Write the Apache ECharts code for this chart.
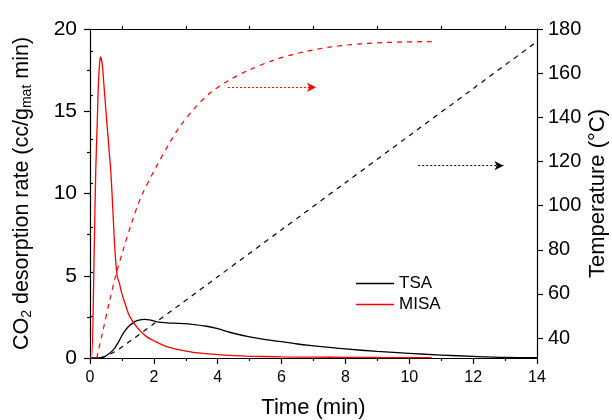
<!DOCTYPE html>
<html><head><meta charset="utf-8">
<script src="https://cdn.jsdelivr.net/npm/echarts@6/dist/echarts.min.js"></script>
<style>html,body{margin:0;padding:0;background:#fff}#c{width:612px;height:420px}</style>
</head><body><div id="c"></div>
<script>
// Desorption rate (cc/g_mat min)
const tsaTime = [0, 0.25, 0.4, 0.55, 0.73, 0.9, 1.04, 1.2, 1.36, 1.5, 1.72, 1.9, 2.1, 2.4, 2.8, 3.2, 3.65, 4.0, 4.4, 5.0, 5.5, 6.0, 6.5, 7.0, 7.5, 8.0, 9.0, 10.0, 11.0, 12.0, 13.0, 14.0];
const tsaRate = [0, 0, 0.05, 0.2, 0.49, 1.0, 1.5, 1.9, 2.15, 2.28, 2.35, 2.3, 2.2, 2.14, 2.1, 2.05, 1.93, 1.78, 1.55, 1.28, 1.12, 0.99, 0.85, 0.74, 0.64, 0.55, 0.4, 0.28, 0.18, 0.1, 0.04, 0.02];
const misaTime = [0, 0.05, 0.13, 0.18, 0.23, 0.26, 0.3, 0.33, 0.38, 0.44, 0.52, 0.6, 0.65, 0.69, 0.78, 0.85, 0.92, 1.0, 1.1, 1.25, 1.5, 1.77, 2.0, 2.4, 3.0, 3.54, 4.2, 4.9, 6.0, 7.0, 8.0, 9.0, 10.7];
const misaRate = [0, 0, 6.4, 11.4, 14.5, 16.5, 17.9, 18.3, 17.9, 16.5, 14.5, 12.6, 11.4, 10.0, 6.6, 5.0, 4.55, 3.9, 3.3, 2.5, 1.8, 1.3, 1.05, 0.69, 0.42, 0.28, 0.18, 0.12, 0.07, 0.05, 0.04, 0.03, 0.02];
// Temperature (°C)
const tsaTempTime = [0.35, 0.5, 0.73, 1.0, 2, 4, 6, 8, 10, 12, 14];
const tsaTemp = [31, 31.8, 33.5, 36, 46.5, 67.8, 89.1, 110.4, 131.7, 153, 174.3];
const misaTempTime = [0.21, 0.4, 0.6, 0.8, 1.04, 1.3, 1.6, 2.09, 2.5, 2.82, 3.3, 3.76, 4.33, 5.01, 5.74, 6.5, 7.5, 8.5, 9.5, 10.7];
const misaTemp = [31, 43, 56, 68, 80, 92, 104, 118, 128.5, 136, 144.5, 151, 156.6, 161.6, 165.8, 169, 171.8, 173.3, 174, 174.3];
// Annotation arrows (time start, time end, temperature)
const misaArrow = [4.32, 7.08, 153.6];
const tsaArrow = [10.28, 12.95, 118.1];
// Tick labels
const xTicks = [0, 2, 4, 6, 8, 10, 12, 14];
const leftTicks = [0, 5, 10, 15, 20];
const rightTicks = [40, 60, 80, 100, 120, 140, 160, 180];
const rightMinor = [50, 70, 90, 110, 130, 150, 170];

const zip = (a, b) => a.map((v, i) => [v, b[i]]);
const FONT = 'Liberation Sans, Arial, sans-serif';
const axisLineStyle = { color: '#000', width: 1.2 };

const chart = echarts.init(document.getElementById('c'), null, { renderer: 'canvas' });
chart.setOption({
  animation: false,
  textStyle: { fontFamily: FONT },
  grid: { left: 90, right: 75, top: 29, bottom: 62, containLabel: false, outerBoundsMode: 'none' },
  legend: {
    orient: 'vertical', left: 356, top: 275, itemGap: 4, padding: 0,
    itemWidth: 38, itemHeight: 1.6, icon: 'rect',
    textStyle: { fontSize: 17, color: '#000', fontFamily: FONT },
    data: ['TSA', 'MISA']
  },
  xAxis: [{
    type: 'value', min: 0, max: 14, interval: 2, position: 'bottom',
    name: 'Time (min)', nameLocation: 'middle', nameGap: 39, nameMoveOverlap: false,
    nameTextStyle: { fontSize: 22, color: '#000', fontFamily: FONT },
    axisLine: { show: true, onZero: false, lineStyle: axisLineStyle },
    axisTick: { show: true, length: 6, lineStyle: axisLineStyle },
    minorTick: { show: true, splitNumber: 2, length: 3, lineStyle: axisLineStyle },
    axisLabel: { fontSize: 16, color: '#000', margin: 12, customValues: xTicks },
    splitLine: { show: false }
  }, {
    type: 'value', min: 0, max: 14, interval: 2, position: 'top',
    axisLine: { show: true, onZero: false, lineStyle: axisLineStyle },
    axisTick: { show: false },
    minorTick: { show: true, splitNumber: 2, length: 3, lineStyle: axisLineStyle },
    axisLabel: { show: false }, splitLine: { show: false }
  }],
  yAxis: [{
    type: 'value', min: 0, max: 20, interval: 5, position: 'left',
    name: '{n|CO}{s|2}{n| desorption rate (cc/g}{s|mat}{n| min)}',
    nameLocation: 'middle', nameRotate: 90, nameGap: 56, nameMoveOverlap: false,
    nameTextStyle: {
      color: '#000', fontFamily: FONT,
      rich: {
        n: { fontSize: 21.5, color: '#000', fontFamily: FONT },
        s: { fontSize: 14, color: '#000', fontFamily: FONT, padding: [10, 0, 0, 0] }
      }
    },
    axisLine: { show: true, onZero: false, lineStyle: axisLineStyle },
    axisTick: { show: true, length: 6, lineStyle: axisLineStyle },
    minorTick: { show: true, splitNumber: 2, length: 3, lineStyle: axisLineStyle },
    axisLabel: { fontSize: 21, color: '#000', margin: 13, customValues: leftTicks },
    splitLine: { show: false }
  }, {
    type: 'value', min: 31, max: 180, position: 'right',
    name: 'Temperature (°C)', nameLocation: 'middle', nameRotate: 90, nameGap: 50, nameMoveOverlap: false,
    nameTextStyle: { fontSize: 22, color: '#000', fontFamily: FONT },
    axisLine: { show: true, onZero: false, lineStyle: axisLineStyle },
    axisTick: { show: true, length: 6, lineStyle: axisLineStyle, customValues: rightTicks },
    axisLabel: { fontSize: 20, color: '#000', margin: 11, customValues: rightTicks },
    splitLine: { show: false }
  }, {
    type: 'value', min: 31, max: 180, position: 'right',
    axisLine: { show: false },
    axisTick: { show: true, length: 3, lineStyle: axisLineStyle, customValues: rightMinor },
    axisLabel: { show: false }, splitLine: { show: false }
  }],
  series: [{
    name: 'TSA', type: 'line', xAxisIndex: 0, yAxisIndex: 0,
    data: zip(tsaTime, tsaRate), smooth: 0.4, showSymbol: false, symbol: 'none',
    color: '#000', lineStyle: { color: '#000', width: 1.3 }
  }, {
    name: 'MISA', type: 'line', xAxisIndex: 0, yAxisIndex: 0,
    data: zip(misaTime, misaRate), smooth: 0.3, showSymbol: false, symbol: 'none',
    color: '#ff0000', lineStyle: { color: '#ff0000', width: 1.3 }
  }, {
    name: 'TSA temperature', type: 'line', xAxisIndex: 0, yAxisIndex: 1,
    data: zip(tsaTempTime, tsaTemp), smooth: 0.3, showSymbol: false, symbol: 'none',
    lineStyle: { color: '#000', width: 1.2, type: [5, 5] },
    markLine: {
      silent: true, symbol: ['none', 'arrow'], symbolSize: [7, 9],
      label: { show: false },
      lineStyle: { color: '#000', width: 1.2, type: [2, 2] },
      data: [[{ coord: [tsaArrow[0], tsaArrow[2]] }, { coord: [tsaArrow[1], tsaArrow[2]] }]]
    }
  }, {
    name: 'MISA temperature', type: 'line', xAxisIndex: 0, yAxisIndex: 1,
    data: zip(misaTempTime, misaTemp), smooth: 0.3, showSymbol: false, symbol: 'none',
    lineStyle: { color: '#ff0000', width: 1.2, type: [5, 5] },
    markLine: {
      silent: true, symbol: ['none', 'arrow'], symbolSize: [7, 9],
      label: { show: false },
      lineStyle: { color: '#ff0000', width: 1.2, type: [2, 2] },
      data: [[{ coord: [misaArrow[0], misaArrow[2]] }, { coord: [misaArrow[1], misaArrow[2]] }]]
    }
  }]
});
</script></body></html>
